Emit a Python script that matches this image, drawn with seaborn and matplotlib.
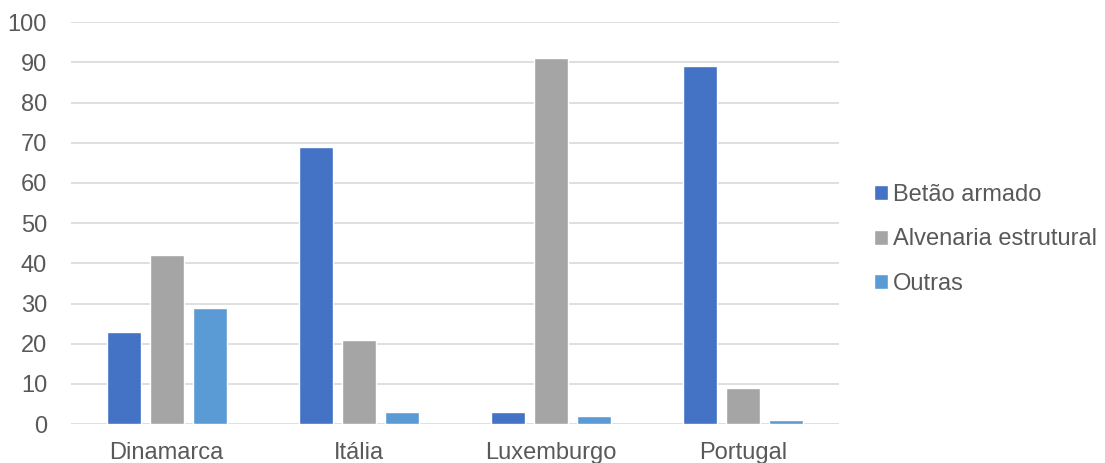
import matplotlib
matplotlib.use("Agg")
import matplotlib.pyplot as plt
import pandas as pd
import seaborn as sns

countries = ["Dinamarca", "Itália", "Luxemburgo", "Portugal"]
series = ["Betão armado", "Alvenaria estrutural", "Outras"]
betao = [23, 69, 3, 89]
alvenaria = [42, 21, 91, 9]
outras = [29, 3, 2, 1]
colors = ["#4472C4", "#A5A5A5", "#5B9BD5"]

df = pd.DataFrame({
    "country": countries * 3,
    "tipo": [s for s in series for _ in countries],
    "valor": betao + alvenaria + outras,
})

sns.set_style("white")
plt.rcParams["font.family"] = ["Liberation Sans", "DejaVu Sans"]
text_color = "#595959"
fs = 17

fig = plt.figure(figsize=(11.05, 4.63), dpi=100)
ax = fig.add_axes([0.064, 0.084, 0.695, 0.868])

sns.barplot(data=df, x="country", y="valor", hue="tipo", hue_order=series,
            palette=colors, width=0.672, gap=0.21, saturation=1,
            ax=ax, legend=True)

ax.set_ylim(0, 100)
ax.set_yticks(range(0, 101, 10))
ax.set_xlim(-0.5, 3.5)
ax.grid(axis="y", color="#D9D9D9", linewidth=1.2)
ax.set_axisbelow(True)
for s in ax.spines.values():
    s.set_visible(False)
ax.set_xlabel("")
ax.set_ylabel("")
ax.tick_params(axis="y", length=0, pad=17, labelsize=fs, labelcolor=text_color)
ax.tick_params(axis="x", length=0, pad=13, labelsize=fs, labelcolor=text_color)

handles, labels = ax.get_legend_handles_labels()
ax.get_legend().remove()
fig.legend(handles, labels, loc="center left", bbox_to_anchor=(0.772, 0.483),
           frameon=False, fontsize=fs, labelcolor=text_color,
           handlelength=0.6, handleheight=0.6, handletextpad=0.2,
           labelspacing=0.95)

fig.savefig("out.png", dpi=100)
